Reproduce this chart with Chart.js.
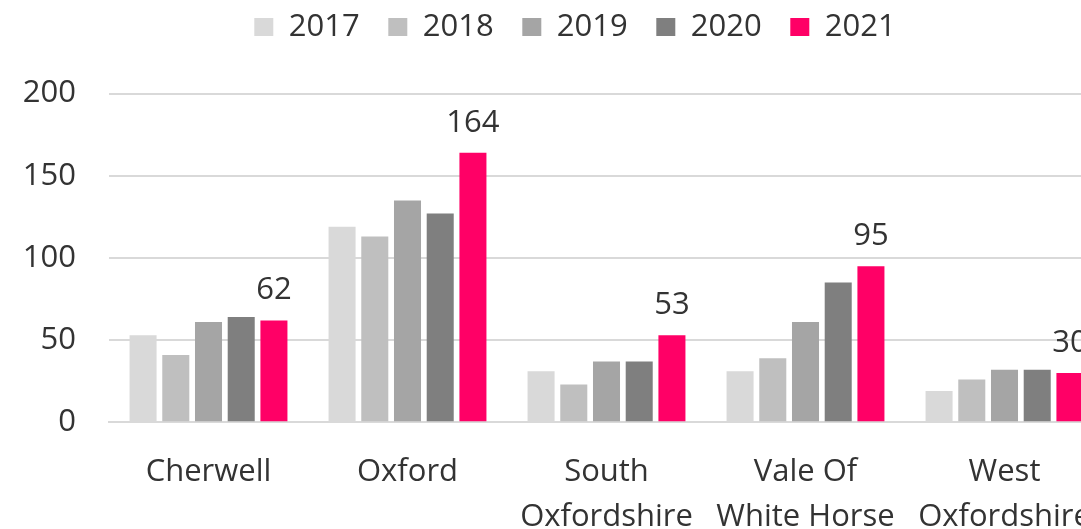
<!DOCTYPE html>
<html>
<head>
<meta charset="utf-8">
<script src="https://cdn.jsdelivr.net/npm/chart.js@4.4.1/dist/chart.umd.min.js"></script>
<style>
    html, body { margin: 0; padding: 0; background: #fff; overflow: hidden; }
    #wrap { width: 1150px; height: 529px; }
</style>
</head>
<body>
<div id="wrap"><canvas id="myChart"></canvas></div>
<script>
const districts = [
    ["Cherwell"],
    ["Oxford"],
    ["South", "Oxfordshire"],
    ["Vale Of", "White Horse"],
    ["West", "Oxfordshire"]
];
const years = ["2017", "2018", "2019", "2020", "2021"];

const v2017 = [53, 119, 31, 31, 19];
const v2018 = [41, 113, 23, 39, 26];
const v2019 = [61, 135, 37, 61, 32];
const v2020 = [64, 127, 37, 85, 32];
const v2021 = [62, 164, 53, 95, 30];

const yTicks = [0, 50, 100, 150, 200];

const colours = ["#d9d9d9", "#bfbfbf", "#a5a5a5", "#7f7f7f", "#ff0066"];
const textColour = "#333333";
const fontFamily = '"Open Sans", sans-serif';

const ctx = document.getElementById("myChart");

// value labels above the 2021 bars only
const barValues = {
    id: "barValues",
    afterDatasetsDraw(chart) {
        const c = chart.ctx;
        const meta = chart.getDatasetMeta(4);
        c.save();
        c.font = "31px " + fontFamily;
        c.fillStyle = textColour;
        c.textAlign = "center";
        c.textBaseline = "middle";
        meta.data.forEach((bar, i) => {
            c.fillText(v2021[i], bar.x, bar.y - 30);
        });
        c.restore();
    }
};

// push the plot down below the legend and centre the legend
// over the plot rather than the whole canvas
const legendPlace = {
    id: "legendPlace",
    beforeLayout(chart) {
        const legend = chart.legend;
        if (!legend || legend._patched) return;
        const fit = legend.fit;
        legend.fit = function () {
            fit.call(this);
            this.height += 41;
        };
        legend._patched = true;
    },
    afterLayout(chart) {
        if (chart.legend) chart.legend.left = 46;
    }
};

const allValues = [v2017, v2018, v2019, v2020, v2021];

let myChart = new Chart(ctx, {
    type: "bar",
    data: {
        labels: districts,
        datasets: years.map((year, i) => ({
            label: year,
            data: allValues[i],
            backgroundColor: colours[i],
            borderWidth: 0,
            categoryPercentage: 0.822,
            barPercentage: 0.826
        }))
    },
    options: {
        responsive: true,
        maintainAspectRatio: false,
        animation: false,
        layout: {
            padding: { left: 0, right: 46, top: -17, bottom: 0 }
        },
        scales: {
            x: {
                grid: { display: false, drawTicks: false },
                border: { color: "#d9d9d9", width: 2 },
                ticks: {
                    color: textColour,
                    padding: 27,
                    maxRotation: 0,
                    autoSkip: false,
                    font: { family: fontFamily, size: 31, lineHeight: 1.45 }
                },
                afterFit(scale) {
                    scale.height = 106.7;
                }
            },
            y: {
                min: 0,
                max: 200,
                afterBuildTicks(scale) {
                    scale.ticks = yTicks.map(v => ({ value: v }));
                },
                grid: { color: "#d9d9d9", lineWidth: 2, drawTicks: false },
                border: { display: false },
                ticks: {
                    color: textColour,
                    padding: 33,
                    font: { family: fontFamily, size: 31 }
                },
                afterFit(scale) {
                    scale.width = 109;
                }
            }
        },
        plugins: {
            legend: {
                position: "top",
                labels: {
                    boxWidth: 19,
                    boxHeight: 18,
                    padding: 28.6,
                    color: textColour,
                    font: { family: fontFamily, size: 31 }
                }
            },
            tooltip: { enabled: false }
        }
    },
    plugins: [barValues, legendPlace]
});
</script>
</body>
</html>
